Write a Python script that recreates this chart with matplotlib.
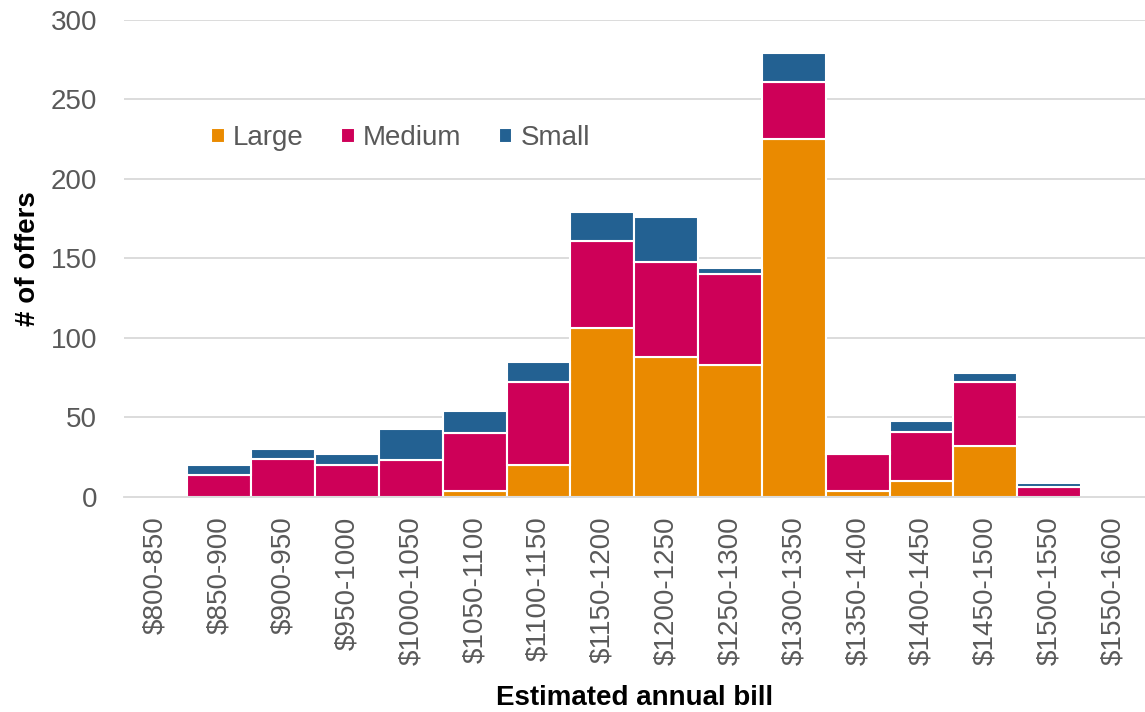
import matplotlib.pyplot as plt
import numpy as np

plt.rcParams['font.family'] = ['Liberation Sans', 'DejaVu Sans']

bins = ['$800-850', '$850-900', '$900-950', '$950-1000', '$1000-1050',
        '$1050-1100', '$1100-1150', '$1150-1200', '$1200-1250', '$1250-1300',
        '$1300-1350', '$1350-1400', '$1400-1450', '$1450-1500', '$1500-1550',
        '$1550-1600']
large = [0, 0, 0, 0, 0, 4, 20, 106, 88, 83, 225, 4, 10, 32, 0, 0]
medium = [0, 14, 24, 20, 23, 36, 52, 55, 60, 57, 36, 23, 31, 40, 6, 0]
small = [0, 6, 6, 7, 20, 14, 13, 18, 28, 4, 18, 1, 7, 6, 3, 0]

colors = {'Large': '#EA8A00', 'Medium': '#CE0058', 'Small': '#236192'}
grey = '#595959'

fig = plt.figure(figsize=(11.45, 7.12), dpi=100)
ax = fig.add_axes([0.108, 0.302, 0.892, 0.670])

x = np.arange(len(bins))
large = np.array(large)
medium = np.array(medium)
small = np.array(small)

ax.bar(x, large, width=1.0, color=colors['Large'], edgecolor='white', linewidth=1.5, label='Large')
ax.bar(x, medium, bottom=large, width=1.0, color=colors['Medium'], edgecolor='white', linewidth=1.5, label='Medium')
ax.bar(x, small, bottom=large + medium, width=1.0, color=colors['Small'], edgecolor='white', linewidth=1.5, label='Small')

ax.set_xlim(-0.5, len(bins) - 0.5)
ax.set_ylim(0, 300)
ax.set_yticks(range(0, 301, 50))
ax.set_xticks(x)
ax.set_xticklabels(bins, rotation=90)
ax.tick_params(axis='both', length=0, labelsize=20, labelcolor=grey)
ax.tick_params(axis='y', pad=19)
ax.tick_params(axis='x', pad=14)

ax.grid(axis='y', color='#d9d9d9', linewidth=1.3)
ax.set_axisbelow(True)
for s in ['top', 'right', 'left']:
    ax.spines[s].set_visible(False)
ax.spines['bottom'].set_color('#d9d9d9')
ax.spines['bottom'].set_linewidth(1.3)

ax.set_xlabel('Estimated annual bill', fontsize=20, fontweight='bold', labelpad=14)
ax.set_ylabel('# of offers', fontsize=20, fontweight='bold', labelpad=7)

ax.legend(loc='center left', bbox_to_anchor=(0.1725, 0.806), bbox_transform=fig.transFigure,
          ncol=3, frameon=False, borderpad=0, fontsize=20, labelcolor=grey,
          handlelength=0.48, handleheight=0.48, handletextpad=0.3, columnspacing=1.35)

fig.savefig('out.png', dpi=100)
